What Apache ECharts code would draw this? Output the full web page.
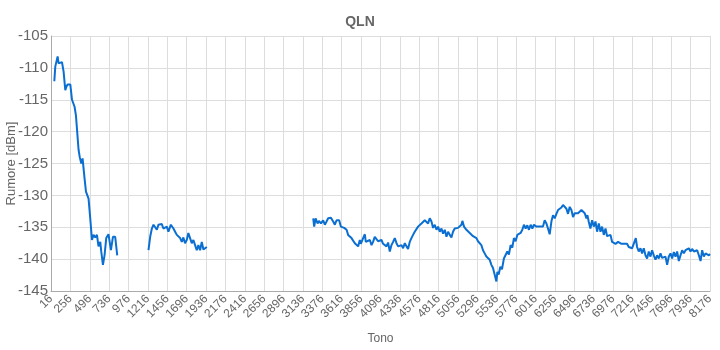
<!DOCTYPE html>
<html>
<head>
<meta charset="utf-8">
<script src="https://cdn.jsdelivr.net/npm/echarts@6/dist/echarts.min.js"></script>
<style>
  html, body { margin: 0; padding: 0; background: #fff; }
  #chart { width: 720px; height: 350px; }
</style>
</head>
<body>
<div id="chart"></div>
<script>
// QLN noise per tone, three measured bands (gaps = no data)
const band1Tones = [57, 69, 82, 98, 110, 131, 152, 172, 193, 205, 221, 255, 276, 308, 325, 337, 357, 372, 391, 407, 420, 431, 449, 481, 502, 523, 543, 564, 585, 604, 626, 638, 659, 679, 700, 728, 758, 783, 811, 836];
const band1Rumore = [-112.1, -109.8, -110.1, -108.2, -109.3, -109.0, -109.1, -110.6, -113.5, -113.0, -112.6, -112.6, -115.0, -116.1, -117.5, -119.5, -122.8, -124.0, -125.0, -124.2, -124.0, -127.3, -129.4, -130.5, -133.6, -137.0, -136.2, -136.6, -136.2, -138.0, -137.3, -138.8, -140.9, -139.4, -136.7, -136.1, -138.6, -136.5, -136.5, -139.4];

const band2Tones = [1223, 1244, 1265, 1285, 1306, 1327, 1346, 1388, 1408, 1429, 1450, 1470, 1500, 1532, 1553, 1574, 1594, 1615, 1636, 1655, 1676, 1697, 1717, 1738, 1759, 1779, 1800, 1821, 1841, 1862, 1883, 1903, 1924, 1945];
const band2Rumore = [-138.6, -136.5, -135.2, -134.6, -134.6, -135.4, -134.6, -134.5, -135.2, -135.5, -134.9, -135.7, -134.6, -135.2, -135.7, -136.2, -136.0, -136.7, -137.3, -136.6, -137.5, -137.0, -135.9, -136.7, -137.5, -137.0, -137.8, -138.6, -137.8, -138.6, -137.3, -138.5, -138.8, -138.1];

const band3Tones = [
  3263, 3275, 3292, 3317, 3333, 3358, 3386, 3407, 3428, 3448, 3482, 3510, 3531, 3552, 3584, 3605, 3621, 3646, 3676, 3695,
  3716, 3737, 3757, 3778, 3799, 3819, 3840, 3852, 3881, 3902, 3914, 3935, 3964, 3985, 4004, 4025, 4046, 4066, 4087, 4108,
  4128, 4149, 4170, 4190, 4211, 4232, 4252, 4273, 4294, 4314, 4335, 4356, 4376, 4397, 4418, 4437, 4458, 4479, 4499, 4520,
  4541, 4561, 4582, 4603, 4623, 4644, 4665, 4685, 4706, 4727, 4747, 4768, 4789, 4809, 4830, 4851, 4871, 4892, 4913, 4933,
  4954, 4974, 4994, 5015, 5036, 5056, 5077, 5098, 5110, 5130, 5160, 5180, 5201, 5222, 5242, 5263, 5284, 5303, 5324, 5345,
  5365, 5386, 5407, 5427, 5448, 5469, 5489, 5510, 5531, 5543, 5559, 5580, 5600, 5624, 5645, 5666, 5686, 5707, 5728, 5748,
  5769, 5790, 5810, 5831, 5852, 5872, 5893, 5914, 5934, 5955, 5976, 5996, 6026, 6046, 6067, 6088, 6108, 6129, 6150, 6170,
  6191, 6212, 6232, 6253, 6274, 6294, 6315, 6336, 6356, 6377, 6398, 6418, 6439, 6460, 6480, 6501, 6522, 6542, 6563, 6584,
  6604, 6625, 6646, 6658, 6674, 6695, 6716, 6737, 6758, 6778, 6799, 6820, 6840, 6861, 6882, 6902, 6923, 6944, 6964, 6985,
  7006, 7038, 7080, 7108, 7129, 7149, 7170, 7191, 7211, 7232, 7257, 7273, 7294, 7315, 7335, 7356, 7377, 7397, 7418, 7439,
  7459, 7480, 7501, 7521, 7542, 7563, 7583, 7604, 7625, 7645, 7666, 7687, 7707, 7728, 7749, 7769, 7790, 7811, 7831, 7852,
  7873, 7893, 7914, 7935, 7955, 7976, 7997, 8017, 8038, 8059, 8079, 8100, 8121, 8141, 8162, 8176
];
const band3Rumore = [
  -133.6, -134.9, -133.6, -134.4, -134.0, -134.4, -133.9, -134.6, -134.1, -133.6, -133.5, -134.1, -134.6, -133.9, -133.9, -134.9, -135.2, -135.1, -135.4, -136.2,
  -136.0, -136.7, -137.0, -137.5, -137.3, -138.0, -137.0, -137.6, -136.7, -136.1, -137.3, -137.5, -137.0, -137.8, -137.3, -136.5, -136.7, -137.2, -137.5, -137.0,
  -137.6, -137.3, -138.0, -137.4, -138.8, -137.8, -137.3, -136.7, -137.5, -138.0, -138.3, -137.8, -138.3, -137.5, -138.0, -138.4, -137.3, -136.7, -136.2, -135.7,
  -135.4, -134.9, -135.1, -134.4, -134.6, -133.9, -133.6, -134.4, -133.6, -134.1, -135.1, -134.6, -135.4, -134.9, -135.7, -135.2, -136.0, -135.4, -136.5, -135.7,
  -136.2, -136.6, -135.7, -135.2, -135.4, -135.1, -135.4, -134.6, -134.0, -134.9, -135.4, -135.2, -135.9, -135.7, -136.4, -136.1, -136.7, -137.2, -137.0, -137.8,
  -138.6, -139.1, -139.6, -139.4, -140.1, -140.9, -141.4, -141.2, -143.5, -142.0, -142.4, -141.2, -141.6, -139.9, -140.2, -138.8, -139.3, -137.8, -138.2, -136.7,
  -137.2, -136.2, -136.4, -135.9, -135.4, -134.6, -135.2, -134.7, -135.4, -134.6, -135.2, -134.6, -134.9, -135.2, -134.9, -135.1, -134.9, -133.9, -134.4, -135.2,
  -136.1, -134.1, -133.1, -133.6, -132.9, -132.3, -132.5, -131.9, -131.5, -131.5, -132.1, -132.9, -131.8, -132.3, -133.4, -132.8, -132.6, -132.8, -132.5, -132.3,
  -132.0, -132.8, -133.6, -133.1, -134.1, -135.2, -133.9, -134.9, -134.1, -135.7, -134.4, -135.7, -134.9, -136.2, -135.2, -136.4, -136.7, -136.2, -137.3, -137.0,
  -137.6, -137.3, -137.6, -137.6, -137.8, -137.6, -138.1, -137.8, -138.3, -138.6, -136.7, -138.1, -138.8, -138.3, -139.1, -138.3, -139.4, -139.9, -138.8, -139.6,
  -138.6, -139.4, -140.1, -139.4, -139.9, -139.1, -139.8, -140.1, -139.6, -140.9, -139.6, -139.1, -139.9, -138.9, -139.6, -138.8, -140.3, -139.4, -138.6, -139.1,
  -138.6, -138.6, -138.3, -138.8, -138.4, -138.8, -139.1, -138.6, -139.4, -140.3, -138.6, -139.6, -139.1, -139.4, -139.4, -139.2
];

const bands = [[band1Tones, band1Rumore], [band2Tones, band2Rumore], [band3Tones, band3Rumore]];

// one line, broken between bands
const lineData = [];
bands.forEach(([t, v], b) => {
  if (b > 0) lineData.push([t[0] - 1, '-']);
  t.forEach((tone, i) => lineData.push([tone, v[i]]));
});

const font = 'Liberation Sans, Arial, sans-serif';
const textColor = '#666';

const chart = echarts.init(document.getElementById('chart'));
chart.setOption({
  animation: false,
  title: {
    text: 'QLN',
    left: 'center',
    top: 10,
    textStyle: { fontFamily: font, fontSize: 14, fontWeight: 'bold', color: textColor }
  },
  grid: { left: 51, right: 10, top: 36, bottom: 59, containLabel: false, outerBoundsMode: 'none' },
  xAxis: {
    type: 'value',
    min: 16,
    max: 8176,
    interval: 240,
    name: 'Tono',
    nameLocation: 'middle',
    nameGap: 42,
    nameMoveOverlap: false,
    nameTextStyle: { fontFamily: font, fontSize: 12, color: textColor },
    axisLine: { show: true, lineStyle: { color: '#aaa' } },
    axisTick: { show: false },
    axisLabel: {
      rotate: 45,
      margin: 6,
      showMinLabel: true,
      showMaxLabel: true,
      hideOverlap: false,
      formatter: v => String(v),
      fontFamily: font,
      fontSize: 12,
      color: textColor
    },
    splitLine: { show: true, lineStyle: { color: '#ddd' } }
  },
  yAxis: {
    type: 'value',
    min: -145,
    max: -105,
    interval: 5,
    name: 'Rumore [dBm]',
    nameLocation: 'middle',
    nameGap: 33,
    nameMoveOverlap: false,
    nameTextStyle: { fontFamily: font, fontSize: 13, color: textColor },
    axisLine: { show: true, lineStyle: { color: '#aaa' } },
    axisTick: { show: false },
    axisLabel: { margin: 3, fontFamily: font, fontSize: 15, color: textColor },
    splitLine: { lineStyle: { color: '#ddd' } }
  },
  series: [{
    type: 'line',
    data: lineData,
    showSymbol: false,
    connectNulls: false,
    lineStyle: { color: '#0b6fd2', width: 2 }
  }]
});
</script>
</body>
</html>
